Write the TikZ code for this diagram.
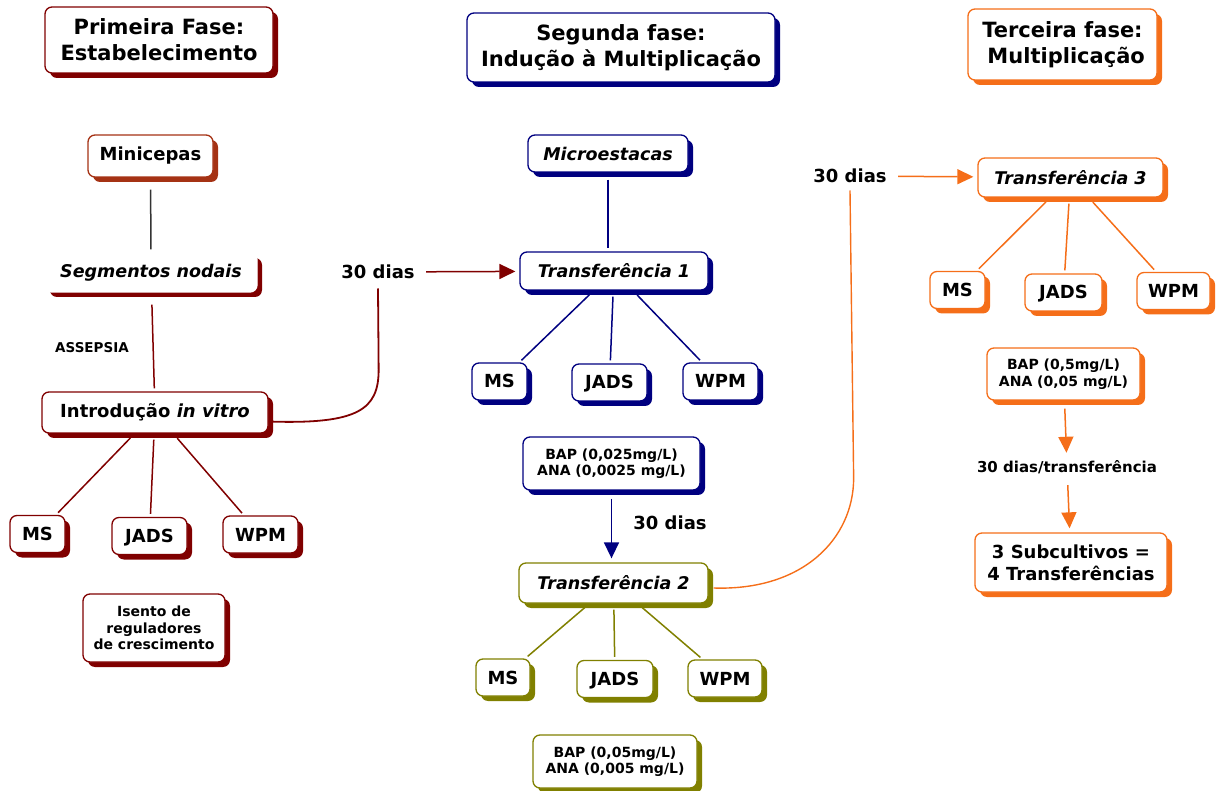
\documentclass[tikz,border=0pt]{standalone}
\usepackage{fontspec}
\setmainfont{DejaVu Sans}
\usetikzlibrary{shadows,arrows.meta}
\definecolor{faseRed}{RGB}{128,0,0}
\definecolor{faseBrown}{RGB}{165,50,20}
\definecolor{faseBlue}{RGB}{0,0,128}
\definecolor{faseOlive}{RGB}{128,128,0}
\definecolor{faseOrange}{RGB}{245,110,25}
\begin{document}
\begin{tikzpicture}
[x=1pt,y=-1pt,
  boxDecorate/.style={rounded corners=7pt,draw=#1,line width=1.3pt,fill=white,
    general shadow={fill=#1,shadow xshift=5pt,shadow yshift=-5pt},
    align=center,inner sep=0pt,font=\bfseries\fontsize{18}{22}\selectfont},
  titleFont/.style={font=\bfseries\fontsize{21}{26}\selectfont},
  smallFont/.style={font=\bfseries\fontsize{14}{16.5}\selectfont},
  italicFont/.style={font=\bfseries\itshape\fontsize{17.5}{20}\selectfont},
  labelDecorate/.style={font=\bfseries\fontsize{18}{21}\selectfont},
  lineDecorate/.style={-,line width=1.5pt,draw=#1,shorten <=6pt,shorten >=3pt},
  arrowDecorate/.style={-{Triangle[length=16pt,width=15pt]},line width=1.5pt,
    draw=#1,shorten <=8pt,shorten >=4pt}]
\useasboundingbox (0,0) rectangle (1219,791);
%% phase titles
\node (prim) at (159,40) [boxDecorate=faseRed,titleFont,minimum width=228pt,minimum height=66pt]
  {Primeira Fase:\\Estabelecimento};
\node (segf) at (621,47.5) [boxDecorate=faseBlue,titleFont,minimum width=308pt,minimum height=69pt]
  {Segunda fase:\\Indução à Multiplicação};
\node (terc) at (1062.5,44.5) [boxDecorate=faseOrange,titleFont,minimum width=189pt,minimum height=71pt]
  {Terceira fase:\\\ Multiplicação};
%% first phase
\node (minic) at (150.5,156) [boxDecorate=faseBrown,minimum width=125pt,minimum height=42pt] {Minicepas};
\node (segnod) at (151,272.5) [boxDecorate=faseRed,draw=white,italicFont,minimum width=212pt,minimum height=39pt]
  {Segmentos nodais};
\node (asep) at (92,348) [font=\bfseries\fontsize{13.5}{15}\selectfont] {ASSEPSIA};
\node (intro) at (155,412.5) [boxDecorate=faseRed,minimum width=226pt,minimum height=41pt]
  {Introdução \textit{in vitro}};
\node (isento) at (154,628) [boxDecorate=faseRed,smallFont,minimum width=142pt,minimum height=68pt]
  {Isento de\\reguladores\\de crescimento};
%% second phase
\node (micro) at (608,153.5) [boxDecorate=faseBlue,italicFont,minimum width=160pt,minimum height=37pt]
  {Microestacas};
\node (t1) at (614,271) [boxDecorate=faseBlue,italicFont,minimum width=188pt,minimum height=38pt]
  {Transferência 1};
\node (bap1) at (611.5,463.5) [boxDecorate=faseBlue,smallFont,minimum width=177pt,minimum height=53pt]
  {BAP (0,025mg/L)\\ANA (0,0025 mg/L)};
\node (t2) at (613.5,583) [boxDecorate=faseOlive,italicFont,minimum width=189pt,minimum height=40pt]
  {Transferência 2};
\node (bap2) at (615,761.5) [boxDecorate=faseOlive,smallFont,minimum width=164pt,minimum height=53pt]
  {BAP (0,05mg/L)\\ANA (0,005 mg/L)};
%% third phase
\node (t3) at (1070.5,177.5) [boxDecorate=faseOrange,italicFont,minimum width=185pt,minimum height=39pt]
  {Transferência 3};
\node (bap3) at (1063.5,374) [boxDecorate=faseOrange,smallFont,minimum width=153pt,minimum height=52pt]
  {BAP (0,5mg/L)\\ANA (0,05 mg/L)};
\node (sub) at (1071,562.5) [boxDecorate=faseOrange,minimum width=192pt,minimum height=59pt]
  {3 Subcultivos =\\4 Transferências};
%% culture media
\foreach \nodename/\x/\y/\w/\txt/\col in {
  ms1/37.5/534/55pt/MS/faseRed, jads1/149.5/536/75pt/JADS/faseRed, wpm1/260.5/534.5/75pt/WPM/faseRed,
  ms2/499.5/381.5/55pt/MS/faseBlue, jads2/609.5/382.5/75pt/JADS/faseBlue, wpm2/720.5/381.5/75pt/WPM/faseBlue,
  ms3/503/677.5/54pt/MS/faseOlive, jads3/615/679/76pt/JADS/faseOlive, wpm3/725/678.5/74pt/WPM/faseOlive,
  ms4/957.5/290/55pt/MS/faseOrange, jads4/1063.5/292.5/77pt/JADS/faseOrange, wpm4/1173.5/291/73pt/WPM/faseOrange}
{
  \node (\nodename) at (\x,\y) [boxDecorate=\col,minimum width=\w,minimum height=37pt,
    text height=13pt,text depth=0pt] {\txt};
}
%% time labels
\node (dias1) at (378,272) [labelDecorate] {30 dias};
\node (dias2) at (670,523) [labelDecorate] {30 dias};
\node (dias3) at (850,176) [labelDecorate] {30 dias};
\node (diastr) at (1067,467) [font=\bfseries\fontsize{15}{18}\selectfont] {30 dias/transferência};
%% edges or lines
\draw[lineDecorate=black!80,shorten <=12pt] (minic) -- (segnod);
\draw[lineDecorate=faseRed,shorten <=12pt] (segnod) -- (intro);
\draw[lineDecorate=faseBlue,shorten <=7pt] (micro) -- (micro |- t1.north);
\path
\foreach \startnode/\endnode/\col in {
  intro/ms1/faseRed, intro/jads1/faseRed, intro/wpm1/faseRed,
  t1/ms2/faseBlue, t1/jads2/faseBlue, t1/wpm2/faseBlue,
  t2/ms3/faseOlive, t2/jads3/faseOlive, t2/wpm3/faseOlive,
  t3/ms4/faseOrange, t3/jads4/faseOrange, t3/wpm4/faseOrange}
{
  (\startnode) edge[lineDecorate=\col] (\endnode)
};
%% arrows
\draw[arrowDecorate=faseRed] (dias1) -- (t1);
\draw[arrowDecorate=faseOrange] (dias3) -- (t3);
\draw[arrowDecorate=faseBlue] (bap1.south) -- (bap1.south |- t2.north);
\draw[arrowDecorate=faseOrange] (bap3) -- (diastr);
\draw[arrowDecorate=faseOrange] (diastr) -- (sub);
%% curved links between phases
\draw[line width=1.8pt,draw=faseRed] ([yshift=-9pt]intro.east)
  .. controls +(90,3) and +(0,40) .. ++(110,-52) -- ([yshift=-6pt]dias1.south);
\draw[line width=1.4pt,draw=faseOrange] ([xshift=5pt,yshift=-5pt]t2.east)
  .. controls +(90,3) and +(0,60) .. ++(140,-110) -- ([yshift=-4pt]dias3.south);
\end{tikzpicture}
\end{document}
